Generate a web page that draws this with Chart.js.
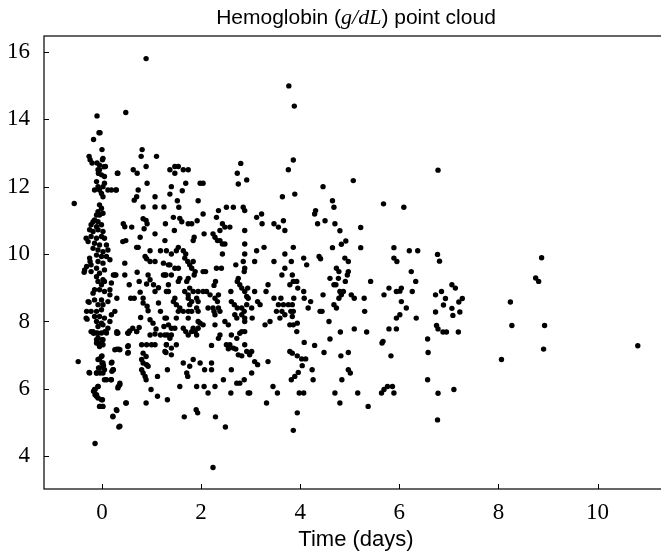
<!DOCTYPE html>
<html>
<head>
<meta charset="utf-8">
<script src="https://cdn.jsdelivr.net/npm/chart.js@4"></script>
<style>
  html, body { margin: 0; padding: 0; background: #fff; overflow: hidden; }
</style>
</head>
<body>
<canvas id="chart" width="672" height="556"></canvas>
<script>
// tick labels
const xTickValues = [0, 2, 4, 6, 8, 10];
const yTickValues = [4, 6, 8, 10, 12, 14, 16];

// point cloud in groups (time in days, hemoglobin g/dL)
const daysTop = [0.89,0.48,-0.1,-0.06,-0.04,-0.17,0,0.81,-0.26,-0.24,-0.2,0.01,0.79,1.1,-0.1,0.07,0.89,-0.05,-0.07,0.63,0.71,0.31,0.05,1.37,0.91,0.28,0.73];
const hgbTop = [15.8,14.2,14.1,13.6,13.6,13.4,13.1,13.1,12.9,12.8,12.7,12.8,12.9,12.9,12.7,12.6,12.6,12.5,12.4,12.5,12.4,12.4,12.3,12.5,12.1,11.9,11.9];

const daysColHigh = [0.02,-0.05,0.04,-0.08,-0.07,-0.01,0.32,-0.11,-0.08,-0.15,-0.05,0.02,0.05,0.12,0.19,0.29,-0.01,0.02,
  -0.05,-0.01,-0.08,-0.11,-0.05,0.02,-0.15,-0.18,-0.08,-0.22,
  -0.11,-0.01,-0.25,-0.18,-0.08,0.02,-0.32,-0.22,-0.11,-0.01,
  0.05,-0.28,-0.15,-0.05,0.09,-0.18,-0.08,0.02,0.12,-0.11,
  -0.01,-0.25,0.09,0.16,-0.08,0.02,-0.22,-0.11,0.05,-0.35,
  -0.22,-0.05,-0.11,0.02,0.19,0.26,0.46,0.46,0.42,0.46];
const hgbColHigh = [12.84,12.64,12.59,12.5,12.4,12.35,12.4,12.15,12.0,11.9,11.9,12.0,12.1,11.9,11.9,11.9,11.8,11.7,
  11.46,11.36,11.26,11.16,11.16,11.21,11.01,10.96,10.96,10.87,
  10.81,10.87,10.72,10.67,10.72,10.67,10.47,10.52,10.47,10.52,
  10.47,10.37,10.32,10.27,10.27,10.17,10.12,10.07,10.12,9.97,
  9.93,9.88,9.93,9.83,9.78,9.73,9.68,9.58,9.53,9.53,
  9.48,9.43,9.33,9.24,9.14,9.38,9.38,9.73,10.37,10.81];

const daysColLow = [-0.08,0.05,-0.01,-0.15,-0.05,0.05,-0.18,0.16,-0.28,-0.15,
  -0.01,0.12,-0.08,0.02,-0.22,-0.11,-0.01,0.19,-0.32,-0.15,
  -0.05,0.05,0.26,-0.11,-0.01,-0.08,0.02,0.12,-0.22,-0.11,
  -0.01,0.09,0.32,0.52,-0.08,0.02,-0.11,-0.01,-0.05,0.26,
  0.36,0.52,0.52,-0.01,-0.08,0.02,0.19,-0.05,0.05,-0.25,
  -0.11,0.02,0.22,0.19,0.09,-0.08,0.36,0.32,-0.15,-0.11,
  -0.08,-0.01,0.02,-0.05,0.49,0.29,0.22,0.36,-0.14,-0.48];
const hgbColLow = [9.19,9.19,9.09,8.94,8.94,8.89,8.84,8.79,8.59,8.64,
  8.64,8.59,8.5,8.5,8.3,8.3,8.35,8.2,8.1,8.15,
  8.15,8.1,8.3,8.0,7.95,7.85,7.9,7.8,7.7,7.66,
  7.66,7.66,7.66,7.66,7.51,7.46,7.36,7.36,7.26,7.16,
  7.16,7.26,7.06,6.96,6.87,6.77,6.77,6.62,6.57,6.47,
  6.47,6.47,6.57,6.27,6.27,6.07,6.12,6.03,5.98,5.83,
  5.73,5.68,5.48,5.48,5.58,5.38,5.19,4.89,4.38,6.81];

const daysDay1 = [0.7,0.65,1.07,-0.56,0.83,1.07,1.25,0.83,0.89,0.43,
  0.6,0.91,0.85,1.28,0.77,1.07,0.48,1.27,0.7,0.73,
  0.97,1.18,0.87,0.9,0.97,1.07,1.24,1.34,-0.24,-0.31,
  -0.36,0.23,0.28,0.71,0.93,0.97,0.9,1.04,1.24,1.29,
  0.55,0.75,1.14,1.07,1.34,0.16,0.3,0.58,0.65,0.77,
  0.83,-0.26,-0.31,0.83,0.91,0.93,1.14,1.18,0.78,0.97,
  1.03,1.27,0.16,-0.3,0.3,0.56,0.62,0.75,0.7,-0.18,
  1.09,1.25,1.34];
const hgbDay1 = [11.7,11.6,11.7,11.5,11.4,11.4,11.4,11.05,11.0,10.9,
  10.8,10.9,10.75,10.9,10.5,10.6,10.4,10.4,10.2,10.2,
  10.1,10.1,9.93,9.86,9.78,9.78,9.73,9.68,9.78,9.63,
  9.46,9.38,9.38,9.46,9.38,9.24,9.11,9.09,9.38,9.38,
  9.09,9.19,9.0,8.89,8.89,8.94,8.69,8.69,8.69,8.87,
  8.69,8.57,8.3,8.55,8.45,8.32,8.55,8.3,8.12,8.05,
  7.95,8.1,8.0,8.07,7.7,7.72,7.8,7.82,7.7,7.7,
  7.78,7.85,7.9];

const daysDay1Low = [-0.17,-0.08,0.06,0.3,0.53,0.7,0.97,1.07,1.18,1.32,
  -0.09,0.02,0,-0.11,0.3,0.34,0.53,0.53,0.8,0.9,
  1.0,1.07,0.83,0.89,1.3,1.29,0,-0.05,0,0.03,
  -0.07,-0.04,-0.11,-0.26,0.2,0.2,0.23,0.05,0.18,0.8,
  0.83,0.9,0.93,0.8,0.83,0.87,0.89,1.12,1.32,-0.14,
  -0.17,-0.14,-0.11,-0.08,0.36,0.33,0.99,1.12,1.32,0.01,
  -0.04,0.01,0.48,0.89,0.3,0.22,0.34];
const hgbDay1Low = [7.65,7.65,7.7,7.65,7.65,7.7,7.6,7.63,7.6,7.6,
  7.36,7.31,7.46,7.46,7.18,7.18,7.28,7.08,7.31,7.31,
  7.31,7.31,7.06,6.96,7.31,7.08,6.98,6.89,6.77,6.69,
  6.62,6.47,6.47,6.49,6.79,6.52,6.57,6.27,6.27,6.87,
  6.77,6.72,6.67,6.57,6.47,6.37,6.27,6.37,6.57,5.98,
  5.93,5.83,5.78,6.07,6.17,6.07,5.98,5.78,5.68,5.68,
  5.48,5.48,5.58,5.58,5.36,5.17,4.87];

const daysDay2High = [3.77,3.88,3.86,3.76,3.89,3.64,2.8,2.73,2.75,2.92,
  1.47,1.54,1.47,1.64,1.74,1.4,1.37,1.69,1.62,
  1.98,2.04,1.52,1.55,1.94,2.51,2.65,2.88,2.85,2.35,
  2.31,2.04,1.44,1.61,1.57,1.74,1.81,1.92,3.12,3.22,
  3.23,3.47,3.56,3.66,3.69,1.46,2.06,2.43,2.38,2.48,
  2.58,2.88,1.86,1.84,2.24,2.28,2.33,2.38,2.43,2.48,
  1.3,1.54,1.64,1.69,1.5,2.88,2.88,3.12,3.27,2.43,
  1.4,3.69,3.86];
const hgbDay2High = [14.99,14.39,12.79,12.5,11.78,11.7,12.69,12.4,12.08,12.2,
  12.4,12.6,12.6,12.5,12.5,12.0,11.78,12.1,11.88,
  12.1,12.1,11.58,11.39,11.58,11.39,11.39,11.29,11.39,11.29,
  11.09,11.19,11.09,10.96,11.06,10.9,10.9,10.99,11.09,11.19,
  10.9,10.9,10.8,10.99,10.7,10.7,10.6,10.9,10.7,10.8,
  10.8,10.7,10.5,10.4,10.6,10.5,10.4,10.4,10.3,10.3,
  10.1,10.2,10.1,10.0,10.1,10.3,10.0,10.1,10.2,10.0,
  10.0,10.0,10.2];

const daysDay2 = [1.67,1.73,1.77,1.84,1.81,1.88,1.86,1.74,1.71,1.37,
  1.47,1.54,2.04,2.09,2.31,2.41,2.7,2.85,2.88,2.87,
  3.08,3.47,3.69,3.63,3.84,1.27,1.4,1.57,1.54,2.29,
  2.26,2.75,2.73,2.78,1.34,3.35,3.31,1.67,1.77,1.84,
  1.94,2.04,2.11,1.3,2.6,2.88,2.82,2.94,2.92,2.95,
  3.08,3.14,3.19,3.47,3.61,3.56,3.66,3.76,3.84,3.52,
  3.63,3.59,3.69,3.81,3.84,1.47,1.44,1.5,1.57,1.54,
  1.64,1.74,1.81,1.91,1.94,1.74,1.81,1.77,1.74,1.91,
  1.94,2.14,2.24,2.35,2.38,2.28,2.26,2.18,2.35,2.28,
  2.33,2.61,2.67,2.73,2.82,2.87,2.92,3.02,1.3,1.5,
  1.74,1.94,2.04,2.68,2.72,2.82,2.88,3.03,2.88,2.48,
  2.55,2.28,3.29,3.39,1.4,1.47,1.64,1.69,1.74,1.81,
  1.88,1.91,1.94,1.98,1.84,1.27,1.4,1.37,2.61,2.78,
  2.82,2.88,2.72,2.38,2.35,2.21,2.51,2.58,2.55,2.65,
  2.7,2.88,2.92,2.98,3.02,2.75,2.82,3.08,3.14,3.35,
  1.3,1.4,1.5,1.27,1.4,1.64,1.84,1.77,1.98,2.07,
  2.21,2.21,1.71,1.73,2.61,3.02,2.45,2.72,2.78,2.87,
  1.57,1.91,2.06,2.28,2.14,2.6,2.95,2.98,3.45,3.54,
  3.32,1.9,1.93,1.66,2.29,2.49,2.24];
const hgbDay2 = [9.88,9.78,9.68,9.78,9.58,9.48,9.38,9.28,9.19,9.68,
  9.58,9.58,9.48,9.48,9.58,9.58,9.68,9.78,9.58,9.48,
  9.78,9.78,9.58,9.38,9.38,9.38,9.38,9.28,9.19,9.19,
  9.07,9.28,9.19,9.09,9.09,9.09,8.89,8.89,8.99,8.89,
  8.89,8.89,8.89,8.89,8.89,8.89,8.99,8.99,8.74,8.69,
  8.89,8.59,8.5,8.69,8.69,8.5,8.5,8.5,8.5,8.3,
  8.3,8.1,8.2,8.3,8.15,8.69,8.59,8.5,8.4,8.3,
  8.3,8.3,8.3,8.4,8.3,8.69,8.59,8.5,8.79,8.69,
  8.59,8.4,8.4,8.4,8.3,8.2,8.3,8.79,8.79,8.69,
  8.59,8.59,8.5,8.4,8.4,8.3,8.5,8.4,8.1,8.1,
  8.1,8.0,7.9,8.2,8.1,8.2,8.1,8.1,8.0,8.0,
  7.9,7.9,7.9,8.0,7.8,7.8,7.8,7.7,7.6,7.7,
  7.7,7.6,7.8,7.95,7.8,7.6,7.6,7.5,7.6,7.65,
  7.7,7.7,7.5,7.6,7.5,7.29,7.31,7.31,7.19,7.21,
  7.18,7.31,7.11,7.01,7.11,7.01,6.98,6.81,6.72,6.81,
  7.31,7.21,7.31,7.11,7.01,6.77,6.87,6.67,6.77,6.57,
  6.57,6.77,6.47,6.37,6.57,6.47,6.27,6.17,6.17,6.27,
  6.07,6.07,6.07,6.07,5.88,5.88,5.88,5.88,6.07,5.88,
  5.58,5.38,5.29,5.17,5.17,4.87,3.67];

const daysDay5High = [5.07,4.46,4.65,4.68,4.31,4.29,5.68,6.09,4.5,4.35,
  4.7,4.8,5.22,4.92,4.83,4.65,5.22,5.89,6.2,6.37];
const hgbDay5High = [12.18,12.0,11.58,11.39,11.29,11.19,11.49,11.39,10.99,10.9,
  10.9,10.69,10.79,10.39,10.29,10.19,10.19,10.19,10.1,10.1];

const daysDay5 = [3.82,4.07,4.13,4.38,4.41,4.9,4.97,5.89,5.95,4.73,
  4.78,4.97,4.95,6.24,6.33,6.26,4.6,4.77,4.91,5.42,
  3.79,3.86,3.93,4.68,4.72,3.95,5.79,5.94,6.01,6.04,
  4.8,4.87,4.83,4.78,4.07,4.08,4.46,5.03,5.09,5.29,
  5.69,3.87,4.21,4.16,6.04,6.14,6.34,4.68,4.73,3.86,
  4.4,4.44,5.3,6.01,5.94,4.58,3.79,3.86,3.94,3.93,
  5.09,4.81,5.34,5.79,5.94,4.6,5.67,5.65,4.08,4.29,
  3.79,3.84,4.48,4.82,4.97,5.83,3.94,4.03,4.11,4.04,
  3.96,3.89,3.82,4.24,4.26,4.97,5.01,4.84,3.98,4.07,
  4.7,5.16,5.64,5.69,5.76,5.86,5.89,4.8,5.37,3.94,
  3.86];
const hgbDay5 = [9.78,9.88,9.68,9.93,9.86,9.88,9.78,9.88,9.78,9.58,
  9.48,9.48,9.38,9.48,9.19,8.89,9.28,9.28,9.19,9.19,
  9.09,9.19,9.19,9.09,9.09,8.99,8.99,8.89,8.9,8.99,
  8.89,8.89,8.79,8.69,8.89,8.69,8.79,8.79,8.69,8.69,
  8.79,8.69,8.59,8.4,8.59,8.4,8.1,8.5,8.4,8.3,
  8.3,8.3,8.3,8.2,8.1,8.0,7.9,7.9,7.95,7.7,
  7.78,7.69,7.69,7.78,7.78,7.48,7.41,7.36,7.38,7.29,
  7.11,7.06,7.08,6.98,7.08,6.98,6.98,6.89,6.89,6.69,
  6.49,6.37,6.27,6.57,6.27,6.57,6.47,6.27,5.88,5.88,
  5.88,5.88,5.88,5.98,6.07,6.07,5.88,5.58,5.48,5.29,
  4.77];

const daysLate = [6.78,6.77,6.81,8.87,8.75,8.81,7.06,7.13,6.73,6.85,
  6.93,7.27,7.2,8.24,6.89,7.06,6.73,7.08,7.22,6.75,
  6.78,6.88,6.95,7.19,8.27,8.93,6.57,6.58,8.91,8.06,
  10.81,6.57,6.78,7.1,6.77];
const hgbLate = [12.49,9.99,9.79,9.89,9.29,9.19,9.09,8.99,8.79,8.89,
  8.68,8.68,8.58,8.58,8.49,8.39,8.28,8.18,8.28,7.88,
  7.78,7.69,7.69,7.69,7.88,7.88,7.48,7.08,7.18,6.87,
  7.28,6.27,5.87,5.98,5.08];

const days = [].concat(daysTop, daysColHigh, daysColLow, daysDay1, daysDay1Low, daysDay2High, daysDay2, daysDay5High, daysDay5, daysLate);
const hgb = [].concat(hgbTop, hgbColHigh, hgbColLow, hgbDay1, hgbDay1Low, hgbDay2High, hgbDay2, hgbDay5High, hgbDay5, hgbLate);

const serifFont = '"Liberation Serif", "Times New Roman", serif';
const sansFont = '"Liberation Sans", Arial, sans-serif';

// box around the plot plus inward ticks, like the original
const frameAndTicks = {
  id: "frameAndTicks",
  afterDraw(chart) {
    const { ctx, chartArea: a, scales } = chart;
    ctx.save();
    ctx.strokeStyle = "#000";
    ctx.lineWidth = 1.2;
    ctx.strokeRect(a.left, a.top, a.right - a.left, a.bottom - a.top);
    ctx.beginPath();
    scales.x.ticks.forEach(t => {
      const px = Math.round(scales.x.getPixelForValue(t.value)) + 0.5;
      ctx.moveTo(px, a.bottom);
      ctx.lineTo(px, a.bottom - 5);
    });
    scales.y.ticks.forEach(t => {
      const py = Math.round(scales.y.getPixelForValue(t.value)) + 0.5;
      ctx.moveTo(a.left, py);
      ctx.lineTo(a.left + 5, py);
    });
    ctx.lineWidth = 1;
    ctx.stroke();
    ctx.restore();
  }
};

// title with the unit in math italics
const mathTitle = {
  id: "mathTitle",
  afterDraw(chart) {
    const { ctx, chartArea: a } = chart;
    const parts = [
      { text: "Hemoglobin (", font: "21px " + sansFont },
      { text: "g/dL", font: "italic 22px " + serifFont },
      { text: ") point cloud", font: "21px " + sansFont }
    ];
    let total = 0;
    parts.forEach(p => {
      ctx.font = p.font;
      p.w = ctx.measureText(p.text).width;
      total += p.w;
    });
    let xPos = (a.left + a.right) / 2 - total / 2;
    ctx.save();
    ctx.fillStyle = "#000";
    ctx.textBaseline = "alphabetic";
    parts.forEach(p => {
      ctx.font = p.font;
      ctx.fillText(p.text, xPos, 24);
      xPos += p.w;
    });
    ctx.restore();
  }
};

new Chart(document.getElementById("chart"), {
  type: "scatter",
  data: {
    datasets: [{
      data: days.map((d, i) => ({ x: d, y: hgb[i] })),
      backgroundColor: "#000",
      borderWidth: 0,
      pointRadius: 2.7
    }]
  },
  options: {
    responsive: false,
    animation: false,
    devicePixelRatio: 1,
    events: [],
    layout: { padding: { top: 36, right: 4, left: 0, bottom: 0 } },
    plugins: { legend: { display: false }, tooltip: { enabled: false } },
    scales: {
      x: {
        type: "linear",
        min: -1.17,
        max: 11.42,
        afterBuildTicks: s => { s.ticks = xTickValues.map(v => ({ value: v })); },
        afterFit: s => { s.height = 67; },
        grid: { display: false },
        border: { display: false },
        ticks: { color: "#000", font: { family: serifFont, size: 23 }, padding: 2, maxRotation: 0 },
        title: { display: true, text: "Time (days)", color: "#000", font: { family: sansFont, size: 22 }, padding: { top: 0, bottom: 3 } }
      },
      y: {
        type: "linear",
        min: 3.03,
        max: 16.47,
        afterBuildTicks: s => { s.ticks = yTickValues.map(v => ({ value: v })); },
        afterFit: s => { s.width = 44; },
        grid: { display: false },
        border: { display: false },
        ticks: { color: "#000", font: { family: serifFont, size: 23 }, padding: 6 }
      }
    }
  },
  plugins: [frameAndTicks, mathTitle]
});
</script>
</body>
</html>
